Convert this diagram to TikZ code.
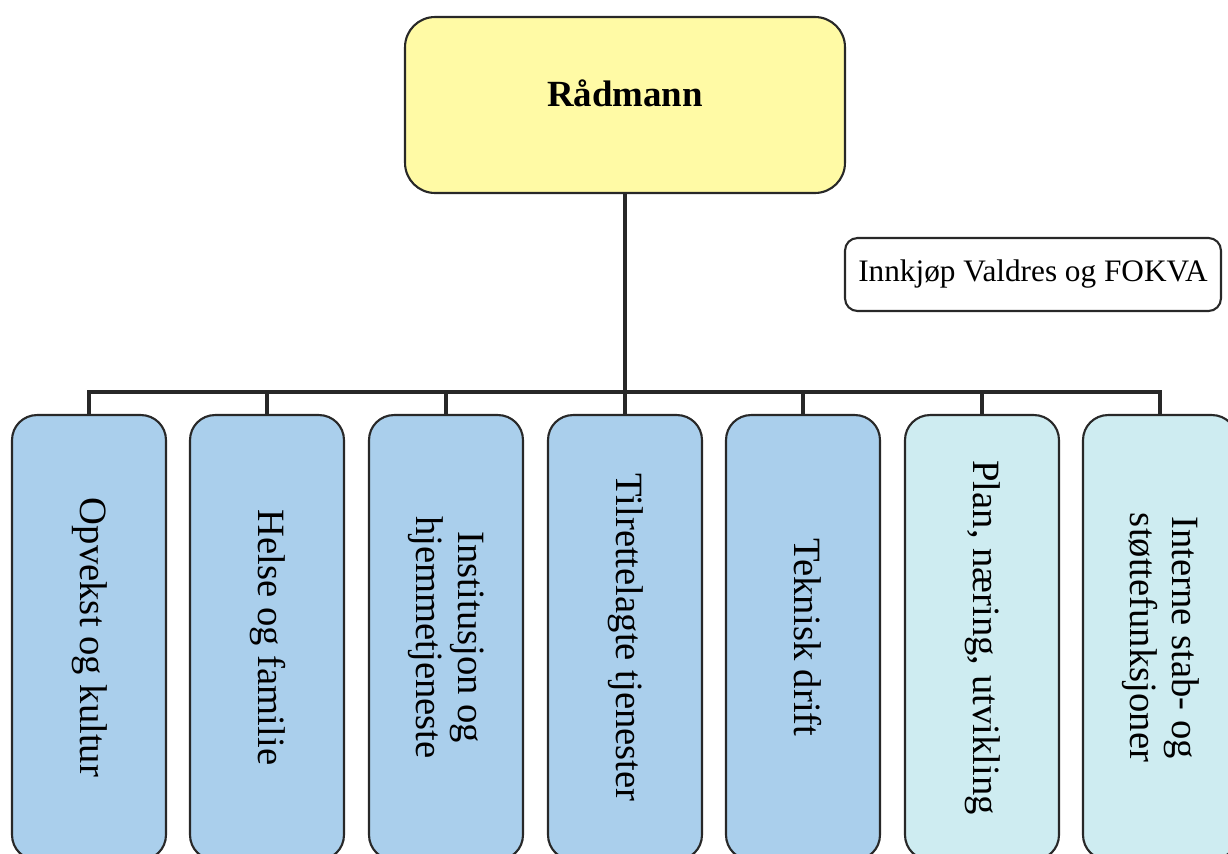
\documentclass[tikz,border=0pt]{standalone}
\usepackage{fontspec}
\setmainfont{Liberation Serif}
\usepackage{graphicx}
\definecolor{raadgul}{RGB}{255,250,165}
\definecolor{enhetblaa}{RGB}{170,207,236}
\definecolor{stabblaa}{RGB}{206,236,241}
\definecolor{strek}{RGB}{40,40,40}
\def\vtekst#1{\rotatebox{-90}{\fontsize{22}{24}\selectfont\begin{tabular}{@{}c@{}}#1\end{tabular}}}

\begin{document}
\begin{tikzpicture}[x=0.02cm,y=-0.02cm,
		enhet/.style={draw=strek,line width=1.2pt,rounded corners=0.5cm,fill=enhetblaa,minimum width=3.08cm,minimum height=8.9cm,inner sep=0pt},
		stab/.style={enhet,fill=stabblaa},
		forbindelse/.style={draw=strek,line width=2.8pt}]
				\useasboundingbox (0,0) rectangle (1228,853);
				
				\node[draw=strek,line width=1.2pt,rounded corners=0.6cm,fill=raadgul,minimum width=8.8cm,minimum height=3.52cm] (raadmann) at (625,105) {\raisebox{0.48cm}{\fontsize{21}{25}\selectfont\bfseries Rådmann}};
				
				\node[draw=strek,line width=1.2pt,rounded corners=0.25cm,minimum width=7.52cm,minimum height=1.46cm] (innkjop) at (1033,274.5) {\fontsize{17.8}{20}\selectfont Innkjøp Valdres og FOKVA};
				
				\coordinate (bar) at (625,392);
				
				\node[enhet] (e1) at (89,637.5) {\vtekst{Opvekst og kultur}};
				\node[enhet] (e2) at (267,637.5) {\vtekst{Helse og familie}};
				\node[enhet] (e3) at (446,637.5) {\vtekst{Institusjon og\\hjemmetjeneste}};
				\node[enhet] (e4) at (625,637.5) {\vtekst{Tilrettelagte tjenester}};
				\node[enhet] (e5) at (803,637.5) {\vtekst{Teknisk drift}};
				\node[stab] (e6) at (982,637.5) {\vtekst{Plan, næring, utvikling}};
				\node[stab] (e7) at (1160,637.5) {\vtekst{Interne stab- og\\støttefunksjoner}};
				
				\draw[forbindelse] (raadmann.south) -- (raadmann.south |- bar);
				\draw[forbindelse] (e1.north) -- (e1.north |- bar) -- (e7.north |- bar) -- (e7.north);
				\draw[forbindelse] (e2.north) -- (e2.north |- bar);
				\draw[forbindelse] (e3.north) -- (e3.north |- bar);
				\draw[forbindelse] (e4.north) -- (e4.north |- bar);
				\draw[forbindelse] (e5.north) -- (e5.north |- bar);
				\draw[forbindelse] (e6.north) -- (e6.north |- bar);
			\end{tikzpicture}
\end{document}
